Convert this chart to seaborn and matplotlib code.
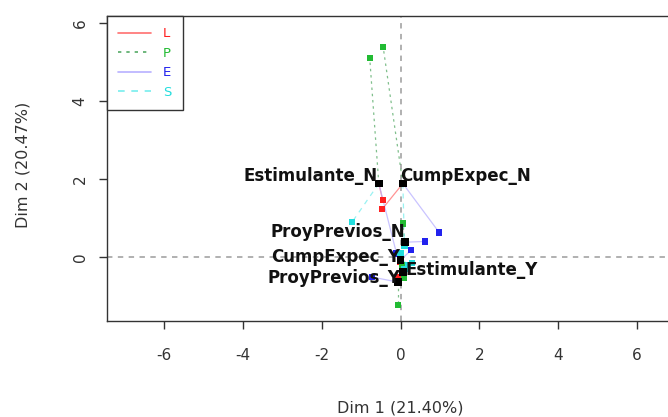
import numpy as np
import pandas as pd
import matplotlib
matplotlib.use("Agg")
import matplotlib.pyplot as plt
from matplotlib.lines import Line2D
from matplotlib.transforms import offset_copy
import seaborn as sns

# ---- data ----
categories = ["Estimulante_N", "CumpExpec_N", "ProyPrevios_N",
              "CumpExpec_Y", "Estimulante_Y", "ProyPrevios_Y"]
cat_x = [-0.55, 0.06, 0.11, 0.00, 0.06, -0.06]
cat_y = [1.89, 1.89, 0.39, -0.07, -0.37, -0.63]

groups = ["L", "P", "E", "S"]
L_x = [-0.45, -0.47, 0.10, 0.00, 0.05, -0.05]
L_y = [1.46, 1.23, 0.30, -0.10, -0.40, -0.50]
P_x = [-0.78, -0.44, 0.06, 0.05, 0.08, -0.06]
P_y = [5.09, 5.38, 0.87, -0.20, -0.53, -1.21]
E_x = [-0.10, 0.98, 0.62, 0.27, 0.00, -0.72]
E_y = [0.10, 0.64, 0.41, 0.19, 0.00, -0.50]
S_x = [-1.23, 0.10, 0.00, 0.30, 0.20, 0.10]
S_y = [0.90, 0.30, 0.10, -0.15, -0.20, -0.30]

xlabel = "Dim 1 (21.40%)"
ylabel = "Dim 2 (20.47%)"
xticks = [-6, -4, -2, 0, 2, 4, 6]
yticks = [0, 2, 4, 6]

# ---- styles ----
colors = {"L": "#FF2020", "P": "#22BB33", "E": "#2222EE", "S": "#22DDDD"}
line_colors = {"L": "#FF7070", "P": "#55AA66", "E": "#B8B0FF", "S": "#77EEEE"}
line_styles = {"L": "-", "P": (0, (2, 3)), "E": "-", "S": (0, (4, 4))}

part = {"L": (L_x, L_y), "P": (P_x, P_y), "E": (E_x, E_y), "S": (S_x, S_y)}
rows = []
for g in groups:
    xs, ys = part[g]
    for c, x, y in zip(categories, xs, ys):
        rows.append({"group": g, "category": c, "x": x, "y": y})
df_part = pd.DataFrame(rows)
df_cat = pd.DataFrame({"category": categories, "x": cat_x, "y": cat_y})

sns.set_theme(style="ticks")
plt.rcParams["font.family"] = ["DejaVu Sans"]

fig = plt.figure(figsize=(6.68, 4.17), dpi=100)
ax = fig.add_axes([107 / 668, 1 - 320.5 / 417, (694 - 107) / 668, (320.5 - 16) / 417])

ax.set_xlim(-7.44, 7.44)
ax.set_ylim(-1.61, 6.17)

ax.axhline(0, color="#AAAAAA", lw=1.3, ls=(0, (3, 3)), zorder=1)
ax.axvline(0, color="#AAAAAA", lw=1.3, ls=(0, (3, 3)), zorder=1)

# lines from category to partial points
for g in groups:
    sub = df_part[df_part.group == g]
    for _, r in sub.iterrows():
        cr = df_cat[df_cat.category == r.category].iloc[0]
        ax.plot([cr.x, r.x], [cr.y, r.y], color=line_colors[g],
                ls=line_styles[g], lw=0.9, alpha=0.75, zorder=2)

sns.scatterplot(data=df_part, x="x", y="y", hue="group", hue_order=groups,
                palette=colors, marker="s", s=20, edgecolor="none",
                legend=False, ax=ax, zorder=3)
sns.scatterplot(data=df_cat, x="x", y="y", color="black", marker="s", s=30,
                edgecolor="none", legend=False, ax=ax, zorder=4)

# labels (alignment / pixel offsets)
label_style = {
    "Estimulante_N": ("right", -1, 8),
    "CumpExpec_N": ("left", -3, 8),
    "ProyPrevios_N": ("right", 0, 10),
    "CumpExpec_Y": ("right", 0, 3),
    "Estimulante_Y": ("left", 3, 2),
    "ProyPrevios_Y": ("right", 2, 4),
}
for c, x, y in zip(categories, cat_x, cat_y):
    ha, dx, dy = label_style[c]
    tr = offset_copy(ax.transData, fig=fig, x=dx, y=dy, units="dots")
    ax.text(x, y, c, transform=tr, ha=ha, va="center", fontsize=12,
            fontweight="bold", color="#111111", zorder=5)

ax.set_xticks(xticks)
ax.set_yticks(yticks)
ax.set_xticklabels([str(t) for t in xticks])
ax.set_yticklabels([str(t) for t in yticks], rotation=90, va="center")
ax.tick_params(axis="x", length=6, width=1, pad=14, labelsize=11, colors="#333333")
ax.tick_params(axis="y", length=6, width=1, pad=8, labelsize=11, colors="#333333")
ax.set_xlabel("")
ax.set_ylabel("")
for sp in ax.spines.values():
    sp.set_visible(True)
    sp.set_color("#333333")
    sp.set_linewidth(1.0)

fig.text(400 / 668, 1 - 408 / 417, xlabel, ha="center", va="center",
         fontsize=11.5, color="#333333")
fig.text(23 / 668, 1 - 165 / 417, ylabel, ha="center", va="center",
         rotation=90, fontsize=11.5, color="#333333")

handles = [Line2D([0], [0], color=line_colors[g], ls=line_styles[g], lw=1.2)
           for g in groups]
leg = ax.legend(handles, groups, loc="upper left", bbox_to_anchor=(0, 1),
                borderaxespad=0, frameon=True, fancybox=False,
                edgecolor="#333333", framealpha=1, handlelength=2.5,
                handletextpad=0.9, labelspacing=0.5, fontsize=9.5,
                borderpad=0.85)
for txt, g in zip(leg.get_texts(), groups):
    txt.set_color(colors[g])
leg.get_frame().set_linewidth(1.0)

fig.savefig("out.png", dpi=100)
